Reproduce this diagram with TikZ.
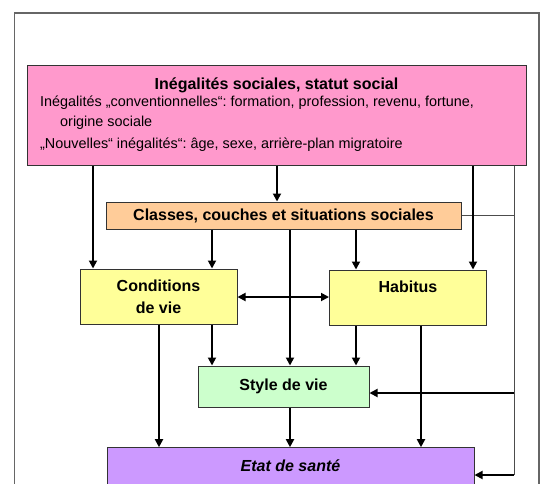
\documentclass[tikz,border=0pt]{standalone}
\usepackage{fontspec}
\setmainfont{Liberation Sans}
\usetikzlibrary{arrows.meta}
\definecolor{rose}{HTML}{FF99CC}
\definecolor{saumon}{HTML}{FFCC99}
\definecolor{jaune}{HTML}{FFFF99}
\definecolor{vert}{HTML}{CCFFCC}
\definecolor{mauve}{HTML}{CC99FF}
\frenchspacing
\begin{document}
\begin{tikzpicture}[x=1pt,y=-1pt,
    >={Triangle[length=8pt,width=8pt]},
    box/.style={draw=black!80,line width=1pt,inner sep=0pt,align=center,
      font=\fontsize{16}{22}\selectfont\bfseries},
    txt/.style={anchor=west,inner sep=0pt,font=\fontsize{14.4}{18}\selectfont},
    arr/.style={->,line width=1.8pt},
    rail/.style={line width=1pt,draw=black!70}]
  \useasboundingbox (0,0) rectangle (541,483);
  \clip (0,0) rectangle (541,483);
  \draw[black!60,line width=1.3pt] (14.5,13) rectangle (539,520);
  % boxes
  \node[box,fill=rose,minimum width=499pt,minimum height=100pt] (ineg) at (276.5,115) {};
  \node[inner sep=0pt,font=\fontsize{16}{19}\selectfont\bfseries] (titre) at (276.5,85) {Inégalités sociales, statut social};
  \node[txt] (conv) at (40,103) {Inégalités „conventionnelles“: formation, profession, revenu, fortune,};
  \node[txt] (orig) at (60,123) {origine sociale};
  \node[txt] (nouv) at (40,145) {„Nouvelles“ inégalités“: âge, sexe, arrière-plan migratoire};
  \node[box,fill=saumon,minimum width=355pt,minimum height=27pt] (classes) at (283.5,215.5) {Classes, couches et situations sociales};
  \node[box,fill=jaune,minimum width=157pt,minimum height=55pt] (cond) at (158.5,296.5) {Conditions\\de vie};
  \node[box,fill=jaune,minimum width=157pt,minimum height=55pt] (habitus) at (408,297.5) {Habitus\\~};
  \node[box,fill=vert,minimum width=171pt,minimum height=41pt] (style) at (283.5,386.5) {Style de vie};
  \node[box,fill=mauve,minimum width=367pt,minimum height=37pt] (etat) at (290.5,466.2) {\itshape Etat de santé};
  % right rail
  \coordinate (r1) at (514,393);
  \coordinate (r2) at (514,475);
  \draw[rail] (ineg.south -| r2) -- (r2);
  \draw[rail] (classes.east) -- (classes.east -| r1);
  \draw[arr] (r1) -- (style.east |- r1);
  \draw[arr] (r2) -- (etat.east |- r2);
  % arrows
  \draw[arr] (ineg.south -| 93,0) -- (cond.north -| 93,0);
  \draw[arr] (ineg.south -| 277,0) -- (classes.north -| 277,0);
  \draw[arr] (ineg.south -| 473,0) -- (habitus.north -| 473,0);
  \draw[arr] (classes.south -| 212,0) -- (cond.north -| 212,0);
  \draw[arr] (classes.south -| 290,0) -- (style.north -| 290,0);
  \draw[arr] (classes.south -| 356,0) -- (habitus.north -| 356,0);
  \draw[arr,<->] (cond.east |- 0,297) -- (habitus.west |- 0,297);
  \draw[arr] (cond.south -| 159,0) -- (etat.north -| 159,0);
  \draw[arr] (cond.south -| 212,0) -- (style.north -| 212,0);
  \draw[arr] (habitus.south -| 356,0) -- (style.north -| 356,0);
  \draw[arr] (habitus.south -| 421,0) -- (etat.north -| 421,0);
  \draw[arr] (style.south -| 290,0) -- (etat.north -| 290,0);
\end{tikzpicture}
\end{document}
